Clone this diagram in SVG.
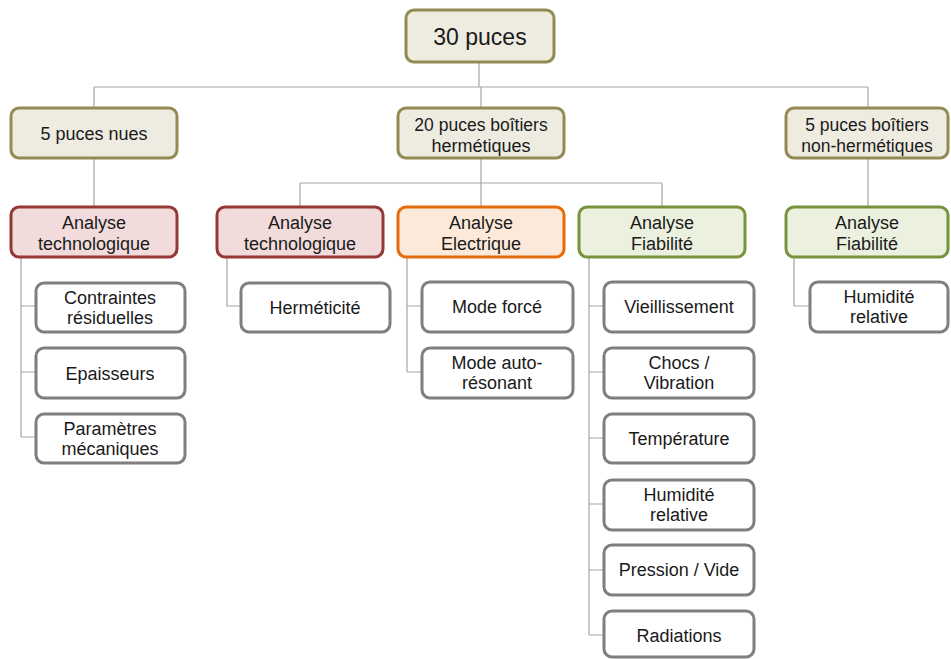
<svg xmlns="http://www.w3.org/2000/svg" width="951" height="659" viewBox="0 0 951 659">
<style>
text{font-family:"Liberation Sans",Arial,sans-serif;font-size:18px;fill:#1a1a1a;text-anchor:middle}
rect{stroke-width:3;rx:8;ry:8}
.tan{fill:#EEECE1;stroke:#948A54}
.red{fill:#F2DCDB;stroke:#953735}
.org{fill:#FDE9D9;stroke:#E46C0A}
.grn{fill:#EBF1DE;stroke:#77933C}
.leaf{fill:#FFFFFF;stroke:#7F7F7F}
#connectors path{fill:none;stroke:#A6A6A6;stroke-width:1.2}
</style>
<rect width="951" height="659" fill="#FFFFFF" style="stroke:none"/>
<g id="connectors">
<path d="M479 62V87M94 87H868M94 87V108M481 87V108M868 87V108"/>
<path d="M94 158V207"/>
<path d="M481 158V207M300 183H662M300 183V207M662 183V207"/>
<path d="M868 158V207"/>
<path d="M21 257V437M21 306H36M21 372H36M21 437H36"/>
<path d="M227 257V306H241"/>
<path d="M407 257V372M407 306H422M407 372H422"/>
<path d="M589 257V635M589 306H604M589 372H604M589 438H604M589 504H604M589 570H604M589 635H604"/>
<path d="M794 257V306H810"/>
</g>
<g id="n-root"><rect class="tan" x="406" y="10" width="148" height="52"/><text x="480" y="45" style="font-size:23px">30 puces</text></g>
<g id="n-nues"><rect class="tan" x="11" y="108" width="166" height="50"/><text x="94" y="140">5 puces nues</text></g>
<g id="n-herm"><rect class="tan" x="398" y="108" width="166" height="50"/><text x="481" y="131" style="font-size:17.5px">20 puces boîtiers</text><text x="481" y="152">hermétiques</text></g>
<g id="n-nonherm"><rect class="tan" x="786" y="108" width="162" height="50"/><text x="867" y="131" style="font-size:17.5px">5 puces boîtiers</text><text x="867" y="152" style="font-size:17.5px">non-hermétiques</text></g>
<g id="n-tech1"><rect class="red" x="11" y="207" width="166" height="50"/><text x="94" y="229">Analyse</text><text x="94" y="250">technologique</text></g>
<g id="n-tech2"><rect class="red" x="217" y="207" width="166" height="50"/><text x="300" y="229">Analyse</text><text x="300" y="250">technologique</text></g>
<g id="n-elec"><rect class="org" x="398" y="207" width="166" height="50"/><text x="481" y="229">Analyse</text><text x="481" y="250">Electrique</text></g>
<g id="n-fiab1"><rect class="grn" x="579" y="207" width="166" height="50"/><text x="662" y="229">Analyse</text><text x="662" y="250">Fiabilité</text></g>
<g id="n-fiab2"><rect class="grn" x="786" y="207" width="162" height="50"/><text x="867" y="229">Analyse</text><text x="867" y="250">Fiabilité</text></g>
<g id="n-contraintes"><rect class="leaf" x="36" y="283" width="149" height="49"/><text x="110" y="304">Contraintes</text><text x="110" y="324">résiduelles</text></g>
<g id="n-epaisseurs"><rect class="leaf" x="36" y="348" width="149" height="50"/><text x="110" y="380">Epaisseurs</text></g>
<g id="n-parametres"><rect class="leaf" x="36" y="414" width="149" height="49"/><text x="110" y="435">Paramètres</text><text x="110" y="455">mécaniques</text></g>
<g id="n-hermeticite"><rect class="leaf" x="241" y="283" width="149" height="49"/><text x="315" y="314">Herméticité</text></g>
<g id="n-force"><rect class="leaf" x="422" y="282" width="151" height="50"/><text x="497" y="313">Mode forcé</text></g>
<g id="n-auto"><rect class="leaf" x="422" y="348" width="151" height="50"/><text x="497" y="369">Mode auto-</text><text x="497" y="389">résonant</text></g>
<g id="n-vieil"><rect class="leaf" x="604" y="282" width="150" height="50"/><text x="679" y="313">Vieillissement</text></g>
<g id="n-chocs"><rect class="leaf" x="604" y="348" width="150" height="50"/><text x="679" y="369">Chocs /</text><text x="679" y="389">Vibration</text></g>
<g id="n-temp"><rect class="leaf" x="604" y="414" width="150" height="49"/><text x="679" y="445">Température</text></g>
<g id="n-humid1"><rect class="leaf" x="604" y="480" width="150" height="50"/><text x="679" y="501">Humidité</text><text x="679" y="521">relative</text></g>
<g id="n-pression"><rect class="leaf" x="604" y="545" width="150" height="50"/><text x="679" y="576">Pression / Vide</text></g>
<g id="n-radiations"><rect class="leaf" x="604" y="611" width="150" height="46"/><text x="679" y="642">Radiations</text></g>
<g id="n-humid2"><rect class="leaf" x="810" y="282" width="138" height="50"/><text x="879" y="303">Humidité</text><text x="879" y="323">relative</text></g>
</svg>
